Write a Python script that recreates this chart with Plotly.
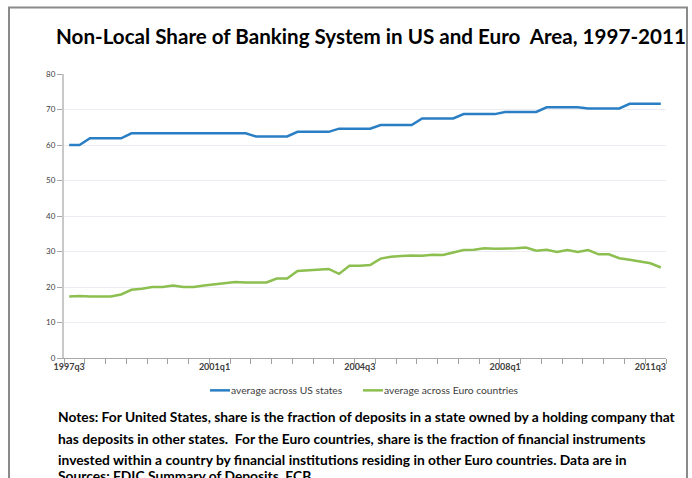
import plotly.graph_objects as go

# ---- data ----
quarters = []
y0, q0 = 1997, 3
for k in range(58):
    qq = q0 - 1 + k
    quarters.append(f"{y0 + qq // 4}q{qq % 4 + 1}")

us_states = [60.0, 60.0, 61.9, 61.9, 61.9, 61.9,
             63.3, 63.3, 63.3, 63.3, 63.3, 63.3, 63.3, 63.3, 63.3, 63.3, 63.3, 63.3,
             62.4, 62.4, 62.4, 62.4,
             63.7, 63.7, 63.7, 63.7,
             64.6, 64.6, 64.6, 64.6,
             65.6, 65.6, 65.6, 65.6,
             67.5, 67.5, 67.5, 67.5,
             68.7, 68.7, 68.7, 68.7,
             69.3, 69.3, 69.3, 69.3,
             70.6, 70.6, 70.6, 70.6,
             70.3, 70.3, 70.3, 70.3,
             71.6, 71.6, 71.6, 71.6]

euro_countries = [17.3, 17.5, 17.3, 17.3, 17.3, 17.9, 19.2, 19.5, 20.0, 20.0,
                  20.4, 20.0, 20.0, 20.4, 20.8, 21.2, 21.4, 21.3, 21.3, 21.3,
                  22.4, 22.4, 24.5, 24.7, 24.8, 25.1, 23.7, 26.0, 26.0, 26.2,
                  28.0, 28.5, 28.7, 28.9, 28.8, 29.1, 29.0, 29.8, 30.4, 30.5,
                  30.9, 30.8, 30.8, 30.9, 31.1, 30.2, 30.5, 29.9, 30.4, 29.9,
                  30.4, 29.2, 29.2, 28.1, 27.7, 27.2, 26.7, 25.5]

series_names = ["average across US states", "average across Euro countries"]
label_every = 14
tick_idx = list(range(0, len(quarters), label_every))
tick_text = [quarters[i] for i in tick_idx]

title_text = "Non-Local Share of Banking System in US and Euro  Area, 1997-2011"
notes_lines = [
    "Notes: For United States, share is the fraction of deposits in a state owned by a holding company that",
    "has deposits in other states.  For the Euro countries, share is the fraction of financial instruments",
    "invested within a country by financial institutions residing in other Euro countries. Data are in",
    "Sources: FDIC Summary of Deposits, ECB.",
]

# ---- layout geometry (page pixels; body margin removed via post_script) ----
W, H = 692, 478
PLOT_L, PLOT_R, PLOT_T, PLOT_B = 64, 666, 74.4, 358
L, R, T, B = PLOT_L, W - PLOT_R, PLOT_T, H - PLOT_B
PW, PH = W - L - R, H - T - B


def px(x):
    return (x - L) / PW


def py(y):
    return (H - B - y) / PH


blue = "#2a7fc4"
green = "#8cbf4f"
FONT = "Lato"

xs = list(range(len(quarters)))
fig = go.Figure()
fig.add_trace(go.Scatter(x=xs, y=us_states, mode="lines", name=series_names[0],
                         line=dict(color=blue, width=2.5), showlegend=False))
fig.add_trace(go.Scatter(x=xs, y=euro_countries, mode="lines", name=series_names[1],
                         line=dict(color=green, width=2.5), showlegend=False))

fig.update_layout(
    width=W, height=H,
    margin=dict(l=L, r=R, t=T, b=B, autoexpand=False),
    paper_bgcolor="white", plot_bgcolor="white",
    font=dict(family=FONT, color="#404040"),
    xaxis=dict(
        range=[-0.5, len(quarters) - 0.5],
        tickmode="array", tickvals=tick_idx, ticktext=tick_text,
        ticks="outside", ticklen=0, tickcolor="#a0a0a0",
        tickfont=dict(family=FONT, size=9, color="#404040", weight="bold"),
        showgrid=False, zeroline=False,
        showline=True, linecolor="#a8a8a8", linewidth=1,
        minor=dict(ticks="outside", tick0=-0.5, dtick=2, ticklen=5,
                   tickcolor="#a0a0a0", showgrid=False),
        fixedrange=True,
    ),
    yaxis=dict(
        range=[0, 80], dtick=10,
        ticks="outside", ticklen=5, tickcolor="#a8a8a8",
        tickfont=dict(family=FONT, size=8, color="#404040"),
        showgrid=True, gridcolor="#ebedf2", gridwidth=1,
        zeroline=False,
        showline=True, linecolor="#c8c8c8", linewidth=2,
        fixedrange=True,
    ),
)

annotations = []
annotations.append(dict(text=title_text, x=px(54), y=py(36.5), xref="paper", yref="paper",
                        xanchor="left", yanchor="middle", showarrow=False,
                        font=dict(family=FONT, size=20.6, color="black", weight="bold")))
line_y = [416.5, 438.0, 459.5, 475.5]
for t, yy in zip(notes_lines, line_y):
    annotations.append(dict(text=t, x=px(56), y=py(yy), xref="paper", yref="paper",
                            xanchor="left", yanchor="middle", showarrow=False,
                            font=dict(family=FONT, size=13.8, color="black", weight="bold")))

# manual legend
shapes = []
leg_y = 390.3
for name, col, x0 in [(series_names[0], blue, 210), (series_names[1], green, 363)]:
    shapes.append(dict(type="line", xref="paper", yref="paper",
                       x0=px(x0), x1=px(x0 + 20), y0=py(leg_y), y1=py(leg_y),
                       line=dict(color=col, width=2.5)))
    annotations.append(dict(text=name, x=px(x0 + 19), y=py(leg_y), xref="paper", yref="paper",
                            xanchor="left", yanchor="middle", showarrow=False,
                            font=dict(family=FONT, size=10.3, color="#404040")))

# chart frame
shapes.append(dict(type="rect", xref="paper", yref="paper",
                   x0=px(9), x1=px(687), y0=py(495), y1=py(8),
                   line=dict(color="#8a8a8a", width=2), fillcolor="rgba(0,0,0,0)", layer="below"))

fig.update_layout(annotations=annotations, shapes=shapes)
fig.write_html("out.html", config={"displayModeBar": False},
               post_script="document.body.style.margin='0';")
